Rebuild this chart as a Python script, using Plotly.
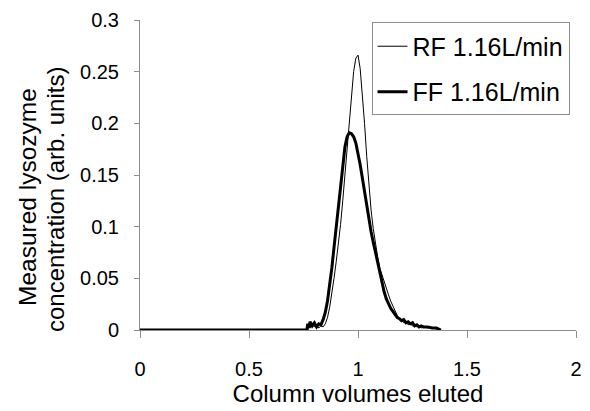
import plotly.graph_objects as go

# column volumes eluted
rf_x = [0, 0.2, 0.4, 0.6, 0.76, 0.77, 0.775, 0.78, 0.79, 0.80, 0.81, 0.82, 0.83, 0.84, 0.85,
        0.86, 0.87, 0.88, 0.89, 0.90, 0.91, 0.92, 0.93, 0.94, 0.95, 0.96, 0.97, 0.98, 0.99,
        1.00, 1.01, 1.02, 1.03, 1.04, 1.05, 1.06, 1.07, 1.08, 1.09, 1.10, 1.11, 1.12, 1.13,
        1.14, 1.15, 1.16, 1.17, 1.18, 1.19, 1.20, 1.21, 1.22, 1.23, 1.24, 1.25, 1.26, 1.27,
        1.28, 1.29, 1.30, 1.32, 1.34, 1.36, 1.38]
rf_y = [0, 0, 0, 0, 0, 0, 0.004, 0.002, 0.006, 0.003, 0.005, 0.002, 0.004, 0.003, 0.006,
        0.012, 0.022, 0.034, 0.050, 0.066, 0.082, 0.102, 0.125, 0.150, 0.178, 0.205, 0.232, 0.250, 0.263,
        0.266, 0.253, 0.228, 0.200, 0.168, 0.138, 0.116, 0.098, 0.083, 0.071, 0.060, 0.053, 0.047, 0.041,
        0.034, 0.028, 0.023, 0.018, 0.014, 0.011, 0.009, 0.007, 0.008, 0.005, 0.006, 0.004, 0.005, 0.003,
        0.004, 0.002, 0.003, 0.002, 0.002, 0.001, 0]

ff_x = [0, 0.2, 0.4, 0.6, 0.76, 0.765, 0.77, 0.775, 0.78, 0.79, 0.80, 0.81, 0.82, 0.83, 0.84,
        0.85, 0.86, 0.87, 0.88, 0.89, 0.90, 0.91, 0.92, 0.93, 0.94, 0.95, 0.96, 0.97, 0.98,
        0.99, 1.00, 1.01, 1.02, 1.03, 1.04, 1.05, 1.06, 1.07, 1.08, 1.09, 1.10, 1.11, 1.12,
        1.13, 1.14, 1.15, 1.16, 1.17, 1.18, 1.19, 1.20, 1.21, 1.22, 1.23, 1.24, 1.25, 1.26,
        1.27, 1.28, 1.29, 1.30, 1.32, 1.34, 1.36, 1.38]
ff_y = [0, 0, 0, 0, 0, 0, 0.006, 0.002, 0.008, 0.004, 0.007, 0.003, 0.006, 0.005, 0.010,
        0.017, 0.028, 0.043, 0.060, 0.080, 0.100, 0.120, 0.142, 0.162, 0.177, 0.187, 0.191, 0.190, 0.187,
        0.181, 0.172, 0.160, 0.147, 0.133, 0.119, 0.106, 0.095, 0.085, 0.075, 0.065, 0.055, 0.045, 0.037,
        0.030, 0.025, 0.021, 0.018, 0.015, 0.012, 0.011, 0.009, 0.010, 0.007, 0.008, 0.006, 0.007, 0.004,
        0.005, 0.003, 0.004, 0.003, 0.003, 0.002, 0.002, 0]

x_ticks = [0, 0.5, 1, 1.5, 2]
x_ticktext = ["0", "0.5", "1", "1.5", "2"]
y_ticks = [0, 0.05, 0.1, 0.15, 0.2, 0.25, 0.3]
y_ticktext = ["0", "0.05", "0.1", "0.15", "0.2", "0.25", "0.3"]

FONT = "Liberation Sans, Arial, sans-serif"
AX = "#8c8c8c"

fig = go.Figure()
fig.add_trace(go.Scatter(x=rf_x, y=rf_y, mode="lines", name="RF 1.16L/min",
                         legendgroup="rf", line=dict(color="black", width=1)))
fig.add_trace(go.Scatter(x=ff_x, y=ff_y, mode="lines", name="FF 1.16L/min",
                         legendgroup="ff", line=dict(color="black", width=3)))

# page body adds an 8px offset, so the figure is 8px smaller and shifted
fig.update_layout(
    width=582, height=403,
    margin=dict(l=132, r=14, t=12, b=81),
    plot_bgcolor="white", paper_bgcolor="white",
    font=dict(family=FONT, size=20, color="black"),
    showlegend=True,
    legend=dict(x=0.531, y=0.992, xanchor="left", yanchor="top",
                bordercolor=AX, borderwidth=1, bgcolor="white",
                font=dict(size=25), tracegroupgap=10),
    xaxis=dict(range=[0, 2], tickvals=x_ticks, ticktext=x_ticktext, automargin=False,
               showgrid=False, zeroline=False, showline=True, linecolor=AX, linewidth=1,
               ticks="outside", ticklen=7, tickcolor=AX, ticklabelstandoff=14,
               title=dict(text="Column volumes eluted", standoff=1, font=dict(size=24))),
    yaxis=dict(range=[0, 0.3], tickvals=y_ticks, ticktext=y_ticktext, automargin=False,
               showgrid=False, zeroline=False, showline=True, linecolor=AX, linewidth=1,
               ticks="outside", ticklen=5, tickcolor=AX, ticklabelstandoff=11),
)

# two-line y axis title, placed as rotated text
fig.add_annotation(text="Measured lysozyme", xref="paper", yref="paper",
                   x=(27 - 140) / 436, y=(330 - 197) / 310, textangle=-90,
                   showarrow=False, font=dict(size=24.5), xanchor="center", yanchor="middle")
fig.add_annotation(text="concentration (arb. units)", xref="paper", yref="paper",
                   x=(56 - 140) / 436, y=(330 - 200) / 310, textangle=-90,
                   showarrow=False, font=dict(size=24), xanchor="center", yanchor="middle")

fig.write_html("out.html")
